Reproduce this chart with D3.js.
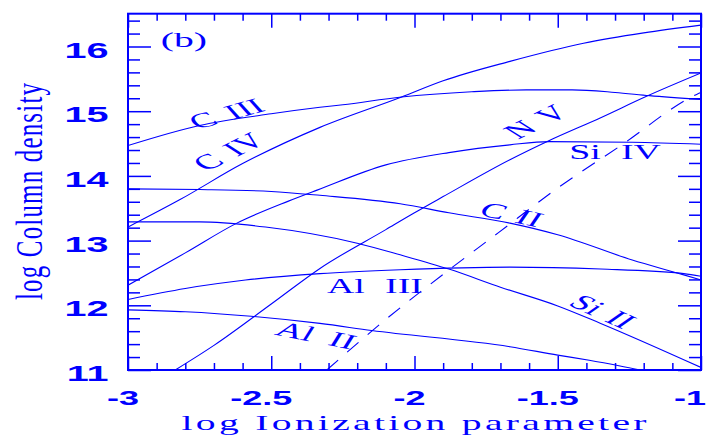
<!DOCTYPE html>
<html>
<head>
<meta charset="utf-8">
<script src="https://cdn.jsdelivr.net/npm/d3@7"></script>
<style>
  html, body { margin: 0; padding: 0; background: #ffffff; }
  svg { display: block; }
</style>
</head>
<body>
<svg id="chart" width="708" height="442"></svg>
<script>
// ---- data -------------------------------------------------------------
const xDomain = [-3, -1];
const yDomain = [11, 16.5];

const xMajorTicks = [-3, -2.5, -2, -1.5, -1];
const xTickLabels = ["-3", "-2.5", "-2", "-1.5", "-1"];
const yMajorTicks = [11, 12, 13, 14, 15, 16];
const yTickLabels = ["11", "12", "13", "14", "15", "16"];

const xTitle = "log Ionization parameter";
const yTitle = "log Column density";
const panelTag = "(b)";

// log U, log N
const cIII = [[-3, 14.47], [-2.75, 14.78], [-2.5, 14.96], [-2.33, 15.06], [-2.25, 15.1],
  [-2.045, 15.22], [-1.8, 15.3], [-1.61, 15.33], [-1.45, 15.33], [-1.3, 15.29],
  [-1.18, 15.24], [-1, 15.18]];
const cIV = [[-3, 13.21], [-2.82, 13.63], [-2.6, 14.19], [-2.33, 14.75], [-2.045, 15.22],
  [-1.9, 15.47], [-1.667, 15.77], [-1.41, 16.05], [-1.2, 16.21], [-1, 16.33]];
const nV = [[-2.835, 11.0], [-2.7, 11.38], [-2.5, 12.02], [-2.33, 12.57], [-2.1, 13.17],
  [-2, 13.43], [-1.9, 13.68], [-1.667, 14.25], [-1.533, 14.54], [-1.35, 14.9],
  [-1.19, 15.23], [-1, 15.59]];
const siIV = [[-3, 12.31], [-2.8, 12.81], [-2.62, 13.27], [-2.44, 13.61], [-2.34, 13.78],
  [-2.1, 14.17], [-1.88, 14.36], [-1.667, 14.48], [-1.53, 14.53], [-1.24, 14.52],
  [-1, 14.49]];
const cII = [[-3, 13.8], [-2.75, 13.79], [-2.5, 13.76], [-2.33, 13.7], [-2.05, 13.57],
  [-1.88, 13.43], [-1.667, 13.27], [-1.5, 13.09], [-1.24, 12.7], [-1.06, 12.47],
  [-1, 12.39]];
const siII = [[-3, 13.29], [-2.75, 13.29], [-2.52, 13.21], [-2.2, 12.96], [-2.05, 12.78],
  [-1.88, 12.56], [-1.7, 12.28], [-1.5, 11.99], [-1.35, 11.72], [-1, 11.04]];
const alIII = [[-3, 12.09], [-2.8, 12.26], [-2.59, 12.39], [-2.33, 12.49], [-2.05, 12.55],
  [-1.667, 12.59], [-1.35, 12.56], [-1.06, 12.49], [-1, 12.45]];
const alII = [[-3, 11.93], [-2.8, 11.9], [-2.57, 11.83], [-2.33, 11.72], [-2.15, 11.61],
  [-1.667, 11.36], [-1.5, 11.23], [-1.39, 11.15], [-1.21, 11.0], [-1.15, 10.95]];
const dashedIon = [[-2.306, 11.0], [-2.109, 11.75], [-1.876, 12.56], [-1.708, 13.12],
  [-1.504, 13.8], [-1.283, 14.46], [-1.015, 15.26], [-1, 15.29]];

const solidSeries = [cIII, cIV, nV, siIV, cII, siII, alIII, alII];

// ---- layout -----------------------------------------------------------
const BLUE = "#0000ff";
const plotLeft = 128, plotRight = 701, plotTop = 13.7, plotBottom = 370;
const STRETCH = 1.8;   // horizontal widening applied to all lettering

const svg = d3.select("#chart");

const x = d3.scaleLinear().domain(xDomain).range([plotLeft, plotRight]);
const y = d3.scaleLinear().domain(yDomain)
  .range([plotBottom, plotBottom - (yDomain[1] - yDomain[0]) * 64.7]);

const xMinor = d3.range(-2.9, -1.0, 0.1).map(v => +v.toFixed(2))
  .filter(v => !xMajorTicks.some(m => Math.abs(m - v) < 1e-6));
const yMinor = d3.range(11.2, 16.45, 0.2).map(v => +v.toFixed(2))
  .filter(v => !yMajorTicks.some(m => Math.abs(m - v) < 1e-6));

// ---- curves -----------------------------------------------------------
svg.append("clipPath").attr("id", "plotClip")
  .append("rect").attr("x", plotLeft).attr("y", plotTop)
  .attr("width", plotRight - plotLeft).attr("height", plotBottom - plotTop);

const line = d3.line().x(d => x(d[0])).y(d => y(d[1])).curve(d3.curveMonotoneX);
const curves = svg.append("g").attr("clip-path", "url(#plotClip)");

curves.selectAll("path.ion").data(solidSeries).join("path")
  .attr("class", "ion")
  .attr("d", line)
  .attr("fill", "none")
  .attr("stroke", BLUE)
  .attr("stroke-width", 1.1);

curves.append("path").datum(dashedIon)
  .attr("d", line)
  .attr("fill", "none")
  .attr("stroke", BLUE)
  .attr("stroke-width", 1.1)
  .attr("stroke-dasharray", "15,12");

// ---- ticks on all four sides, pointing inward -------------------------
function tickGroup(axis, tx, ty) {
  const g = svg.append("g").attr("transform", `translate(${tx},${ty})`).call(axis);
  g.select(".domain").remove();
  g.selectAll("line").attr("stroke", BLUE).attr("stroke-width", 1.5);
  g.selectAll("text").remove();
}
const noLabel = () => "";
tickGroup(d3.axisTop(x).tickValues(xMajorTicks).tickSize(14).tickFormat(noLabel), 0, plotBottom);
tickGroup(d3.axisTop(x).tickValues(xMinor).tickSize(7).tickFormat(noLabel), 0, plotBottom);
tickGroup(d3.axisBottom(x).tickValues(xMajorTicks).tickSize(14).tickFormat(noLabel), 0, plotTop);
tickGroup(d3.axisBottom(x).tickValues(xMinor).tickSize(7).tickFormat(noLabel), 0, plotTop);
tickGroup(d3.axisRight(y).tickValues(yMajorTicks).tickSize(23).tickFormat(noLabel), plotLeft, 0);
tickGroup(d3.axisRight(y).tickValues(yMinor).tickSize(12).tickFormat(noLabel), plotLeft, 0);
tickGroup(d3.axisLeft(y).tickValues(yMajorTicks).tickSize(23).tickFormat(noLabel), plotRight, 0);
tickGroup(d3.axisLeft(y).tickValues(yMinor).tickSize(12).tickFormat(noLabel), plotRight, 0);

// frame
svg.append("rect")
  .attr("x", plotLeft).attr("y", plotTop)
  .attr("width", plotRight - plotLeft).attr("height", plotBottom - plotTop)
  .attr("fill", "none").attr("stroke", BLUE).attr("stroke-width", 2);

// ---- lettering --------------------------------------------------------
// Text is widened horizontally after rotation, so rotated labels pick up a slight shear.
function label(px, py, str, opt) {
  const o = Object.assign({ size: 22, family: "'Liberation Serif', 'DejaVu Serif', serif",
    weight: "normal", anchor: "middle", rot: 0, sx: STRETCH, gap: 0 }, opt || {});
  const t = svg.append("text")
    .attr("transform", `translate(${px},${py}) scale(${o.sx},1) rotate(${o.rot})`)
    .attr("text-anchor", o.anchor)
    .attr("font-family", o.family)
    .attr("font-size", o.size)
    .attr("font-weight", o.weight)
    .attr("fill", BLUE);
  const parts = str.split(" ");
  if (o.gap && parts.length === 2) {
    // ion name, a space, then the ionisation stage set a little further apart
    t.append("tspan").text(parts[0] + "\u00a0");
    t.append("tspan").attr("dx", o.gap).text(parts[1]);
  } else {
    t.text(str);
  }
  if (o.length) t.attr("textLength", o.length).attr("lengthAdjust", "spacing");
  return t;
}
// rotation in unstretched space that shows up at the given visible angle
const rotFor = deg => Math.atan(Math.tan(deg * Math.PI / 180) * STRETCH) * 180 / Math.PI;

const sansBold = { family: "'Liberation Sans', Arial, Helvetica, sans-serif", weight: "bold" };

yMajorTicks.forEach((v, i) => {
  label(108.5, y(v) + 11, yTickLabels[i], Object.assign({ size: 22, anchor: "end" }, sansBold));
});
xMajorTicks.forEach((v, i) => {
  const s = xTickLabels[i];
  const t = label(x(v) - 2.5 * s.length, 405, s, Object.assign({ size: 20, anchor: "middle" }, sansBold));
  // keep the last label inside the page
  const bb = t.node().getBoundingClientRect();
  if (bb.right > 706) {
    t.attr("transform", `translate(${x(v) - 2.5 * s.length - (bb.right - 706)},405) scale(${STRETCH},1)`);
  }
});

// axis titles
label(414, 430, xTitle, { size: 22, sx: 1.8, length: 465 / 1.8 });
label(42, 191.5, yTitle, { size: 25, sx: 1.5, rot: -90, length: 217 });

// panel tag
label(x(-2.805), y(16.0), panelTag, { size: 22 });

// ion labels
label(x(-2.637), y(14.864), "C III", { size: 21, rot: rotFor(-15.6), gap: 3 });
label(x(-2.620), y(14.292), "C IV", { size: 21, rot: rotFor(-26), gap: 3 });
label(x(-1.548), y(14.756), "N V", { size: 21, rot: rotFor(-26), gap: 3 });
label(x(-1.300), y(14.257), "Si IV", { size: 21, gap: 6 });
label(x(-1.677), y(13.303), "C II", { size: 21, rot: rotFor(12), gap: 2 });
label(x(-1.370), y(11.819), "Si II", { size: 21, rot: rotFor(24), gap: 3 });
label(x(-2.138), y(12.185), "Al III", { size: 21, gap: 6 });
label(x(-2.358), y(11.433), "Al II", { size: 21, rot: rotFor(11), gap: 5 });
</script>
</body>
</html>
